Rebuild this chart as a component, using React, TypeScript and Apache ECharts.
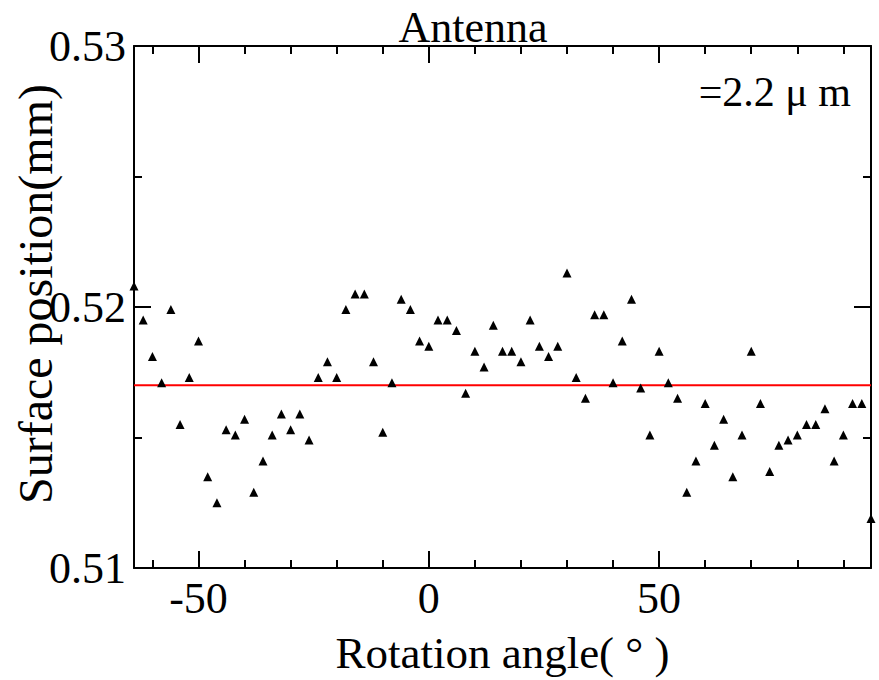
import React, { useEffect, useRef } from "react";
import * as echarts from "echarts";

const angles = [
  -64, -62, -60, -58, -56, -54, -52, -50, -48, -46, -44, -42, -40, -38, -36, -34, -32, -30, -28, -26,
  -24, -22, -20, -18, -16, -14, -12, -10, -8, -6, -4, -2, 0, 2, 4, 6, 8, 10, 12, 14,
  16, 18, 20, 22, 24, 26, 28, 30, 32, 34, 36, 38, 40, 42, 44, 46, 48, 50, 52, 54,
  56, 58, 60, 62, 64, 66, 68, 70, 72, 74, 76, 78, 80, 82, 84, 86, 88, 90, 92, 94, 96,
];
const positions = [
  0.5208, 0.5195, 0.5181, 0.5171, 0.5199, 0.5155, 0.5173, 0.5187, 0.5135, 0.5125,
  0.5153, 0.5151, 0.5157, 0.5129, 0.5141, 0.5151, 0.5159, 0.5153, 0.5159, 0.5149,
  0.5173, 0.5179, 0.5173, 0.5199, 0.5205, 0.5205, 0.5179, 0.5152, 0.5171, 0.5203,
  0.5199, 0.5187, 0.5185, 0.5195, 0.5195, 0.5191, 0.5167, 0.5183, 0.5177, 0.5193,
  0.5183, 0.5183, 0.5179, 0.5195, 0.5185, 0.5181, 0.5185, 0.5213, 0.5173, 0.5165,
  0.5197, 0.5197, 0.5171, 0.5187, 0.5203, 0.5169, 0.5151, 0.5183, 0.5171, 0.5165,
  0.5129, 0.5141, 0.5163, 0.5147, 0.5157, 0.5135, 0.5151, 0.5183, 0.5163, 0.5137,
  0.5147, 0.5149, 0.5151, 0.5155, 0.5155, 0.5161, 0.5141, 0.5151, 0.5163, 0.5163,
  0.5119,
];
const meanValue = 0.517;
const xMajorTicks = [-50, 0, 50];
const xMinorTicks = [-60, -40, -30, -20, -10, 10, 20, 30, 40, 60, 70, 80, 90];
const yMajorTicks = [0.51, 0.52, 0.53];
const yMinorTicks = [0.515, 0.525];
const xRange = [-64, 96];
const yRange = [0.51, 0.53];
const titleText = "Antenna";
const noteText = "=2.2 μ m";
const xName = "Rotation angle( ° )";
const yName = "Surface position(mm)";

const FONT = "Liberation Serif";

export default function App() {
  const ref = useRef<HTMLDivElement>(null);
  useEffect(() => {
    if (!ref.current) return;
    const chart = echarts.init(ref.current, undefined, { renderer: "svg" });
    const lineStyle = { color: "#000", width: 2 };
    const tickStyle = { color: "#000", width: 2 };
    const mkX = (position: string, ticks: number[], len: number, showLine: boolean, labels: boolean, name?: string) => ({
      type: "value",
      position,
      min: xRange[0],
      max: xRange[1],
      axisLine: { show: showLine, onZero: false, lineStyle },
      axisTick: { show: true, inside: true, length: len, customValues: ticks, lineStyle: tickStyle },
      axisLabel: labels
        ? { show: true, customValues: ticks, fontFamily: FONT, fontSize: 44, color: "#000", margin: 8 }
        : { show: false },
      splitLine: { show: false },
      name: name || "",
      nameLocation: "middle",
      nameGap: 62,
      nameTextStyle: { fontFamily: FONT, fontSize: 45, color: "#000" },
    });
    const mkY = (position: string, ticks: number[], len: number, showLine: boolean, labels: boolean) => ({
      type: "value",
      position,
      min: yRange[0],
      max: yRange[1],
      axisLine: { show: showLine, onZero: false, lineStyle },
      axisTick: { show: true, inside: true, length: len, customValues: ticks, lineStyle: tickStyle },
      axisLabel: labels
        ? {
            show: true,
            customValues: ticks,
            fontFamily: FONT,
            fontSize: 44,
            color: "#000",
            margin: 8,
            formatter: (v: number) => v.toFixed(2),
          }
        : { show: false },
      splitLine: { show: false },
    });
    chart.setOption({
      animation: false,
      backgroundColor: "#fff",
      grid: { left: 134, right: 8, top: 46, bottom: 108, containLabel: false },
      xAxis: [
        mkX("bottom", xMajorTicks, 17, true, true, xName),
        mkX("bottom", xMinorTicks, 8, false, false),
        mkX("top", xMajorTicks, 17, true, false),
        mkX("top", xMinorTicks, 8, false, false),
      ],
      yAxis: [
        mkY("left", yMajorTicks, 17, true, true),
        mkY("left", yMinorTicks, 8, false, false),
        mkY("right", yMajorTicks, 17, true, false),
        mkY("right", yMinorTicks, 8, false, false),
      ],
      series: [
        {
          type: "line",
          xAxisIndex: 0,
          yAxisIndex: 0,
          data: [
            [xRange[0], meanValue],
            [xRange[1], meanValue],
          ],
          symbol: "none",
          lineStyle: { color: "#ff0000", width: 2 },
          silent: true,
          z: 1,
        },
        {
          type: "scatter",
          xAxisIndex: 0,
          yAxisIndex: 0,
          data: angles.map((a, i) => [a, positions[i]]),
          symbol: "triangle",
          symbolSize: 9,
          itemStyle: { color: "#000", opacity: 1 },
          clip: false,
          z: 3,
        },
      ],
      graphic: [
        {
          type: "text",
          x: 473,
          y: 27,
          style: {
            text: titleText,
            fontFamily: FONT,
            fontSize: 44,
            fill: "#000",
            textAlign: "center",
            align: "center",
            textVerticalAlign: "middle",
            verticalAlign: "middle",
          },
        },
        {
          type: "text",
          x: 851,
          y: 92,
          style: {
            text: noteText,
            fontFamily: FONT,
            fontSize: 42,
            fill: "#000",
            textAlign: "right",
            align: "right",
            textVerticalAlign: "middle",
            verticalAlign: "middle",
          },
        },
        {
          type: "text",
          x: 35,
          y: 294,
          rotation: Math.PI / 2,
          style: {
            text: yName,
            fontFamily: FONT,
            fontSize: 48,
            fill: "#000",
            textAlign: "center",
            align: "center",
            textVerticalAlign: "middle",
            verticalAlign: "middle",
          },
        },
      ],
    });
    return () => chart.dispose();
  }, []);
  return (
    <div
      ref={ref}
      style={{ position: "absolute", left: 0, top: 0, width: 879, height: 680 }}
    />
  );
}
